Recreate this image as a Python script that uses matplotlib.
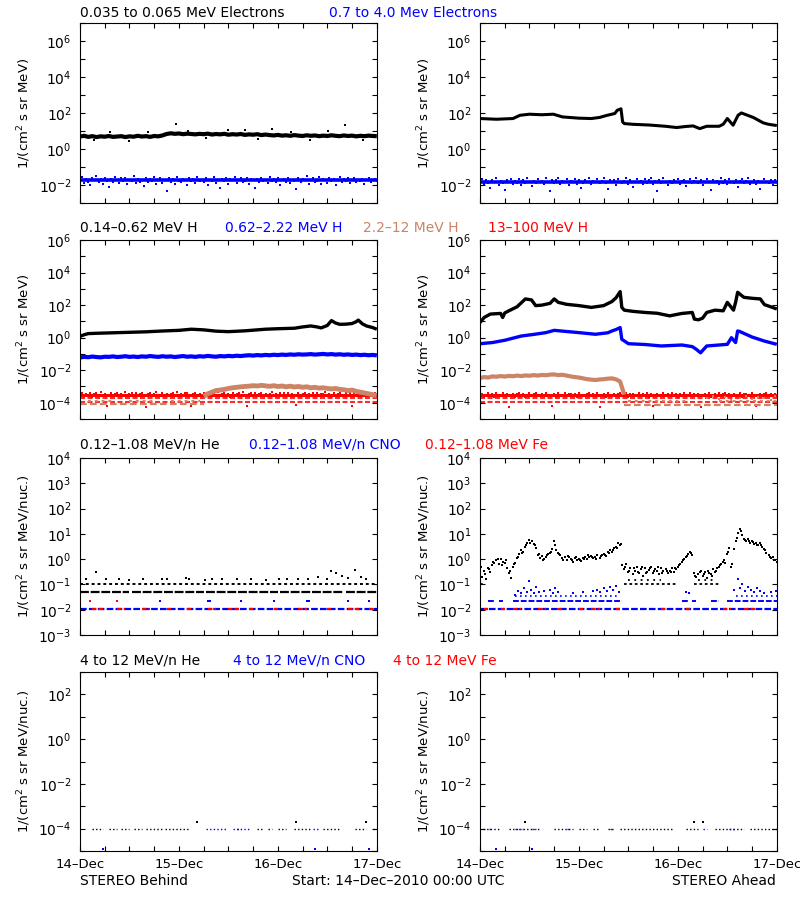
import numpy as np
import matplotlib
matplotlib.use('Agg')
import matplotlib.pyplot as plt
from matplotlib.ticker import FixedLocator, NullLocator, FuncFormatter

plt.rcParams['font.family'] = ['DejaVu Sans']
plt.rcParams['font.size'] = 10
plt.rcParams['mathtext.fontset'] = 'dejavusans'

BLUE = '#0000FF'; RED = '#FF0000'; TAN = '#CC8466'; BLACK = '#000000'

# ---------------- time bases (hours since 14-Dec-2010 00:00) ----------------
t_half = np.arange(0, 72.01, 0.5)    # 145 samples
t_hour = np.arange(0, 73, 1.0)       # 73 samples
t_qoff = np.arange(0.25, 72, 1.0)    # 72 samples, quarter-hour offset
day_ticks = [0, 24, 48, 72]
day_labels = ['14\u2013Dec', '15\u2013Dec', '16\u2013Dec', '17\u2013Dec']

# ---------------- Row 1: electrons (log10 values) ----------------
eB_lo = [0.72,0.76,0.70,0.74,0.69,0.73,0.71,0.75,0.70,0.72,0.74,0.69,0.73,0.71,0.76,0.72,0.74,0.70,0.75,0.73,0.78,
         0.86,0.90,0.87,0.89,0.85,0.88,0.86,0.84,0.87,0.85,0.88,0.83,0.86,0.84,0.87,0.82,0.85,0.83,0.86,0.81,0.84,0.82,0.85,0.80,0.83,
         0.80,0.78,0.81,0.77,0.79,0.76,0.80,0.77,0.75,0.79,0.76,0.78,0.74,0.77,0.75,0.79,0.76,0.74,0.78,0.75,0.77,0.73,0.76,0.74,0.77,0.75,0.74]
eB_lo_out_t = [3.5, 7.2, 11.8, 16.4, 23.4, 26.1, 30.5, 35.8, 40.0, 43.2, 46.5, 51.3, 55.9, 60.2, 64.2, 68.7]
eB_lo_out_v = [0.50, 0.95, 0.48, 0.98, 1.44, 1.05, 0.62, 1.08, 1.10, 0.60, 1.15, 0.95, 0.52, 1.00, 1.35, 0.50]
eB_hi = [-1.70,-1.55,-1.85,-1.62,-1.78,-1.95,-1.60,-1.72,-1.50,-1.83,
         -1.66,-1.90,-1.58,-1.75,-2.10,-1.64,-1.80,-1.52,-1.70,-1.88,
         -1.61,-1.77,-1.56,-1.92,-1.68,-1.74,-1.49,-1.86,-1.63,-1.79,
         -1.71,-2.05,-1.57,-1.82,-1.65,-1.76,-1.53,-1.89,-1.69,-1.60,
         -1.84,-1.72,-2.30,-1.59,-1.78,-1.66,-1.93,-1.55,-1.73,-1.81,
         -1.62,-1.70,-1.98,-1.57,-1.76,-1.64,-1.87,-1.51,-1.74,-1.68,
         -1.80,-1.60,-1.95,-1.67,-1.73,-1.55,-1.84,-1.70,-2.12,-1.63,
         -1.77,-1.58,-1.90,-1.66,-1.72,-1.52,-1.85,-1.69,-1.61,-1.79,
         -1.74,-1.56,-1.94,-1.65,-1.71,-2.15,-1.62,-1.83,-1.58,-1.76,
         -1.68,-1.88,-1.54,-1.73,-1.66,-1.81,-1.60,-1.97,-1.70,-1.64,
         -1.78,-1.57,-1.86,-1.67,-1.75,-2.20,-1.59,-1.82,-1.63,-1.72,
         -1.50,-1.90,-1.69,-1.61,-1.80,-1.74,-1.55,-1.92,-1.66,-1.71,
         -1.85,-1.58,-1.77,-1.63,-1.96,-1.68,-1.52,-1.79,-1.65,-1.73,
         -1.60,-1.88,-1.70,-1.56,-1.82,-1.67,-1.75,-1.62,-1.91,-1.69,
         -1.58,-1.80,-1.71,-1.64,-1.77]
eB_hi_core = [-1.72, -1.72]

eA_lo_t = [0,4,8,9.7,12,15,17.8,20,24,27,29,30.7,32.7,33.3,34.2,34.6,35,37,41,45,47.7,50,51.7,53.3,55,58,59,60,61.4,62.6,63.4,66.3,68.7,70,72]
eA_lo_v = [1.72,1.68,1.72,1.90,1.96,1.93,1.96,1.81,1.74,1.72,1.78,1.89,2.00,2.18,2.26,1.53,1.44,1.40,1.36,1.29,1.22,1.28,1.31,1.16,1.29,1.29,1.40,1.72,1.35,1.90,2.03,1.78,1.48,1.40,1.33]
eA_hi = [-1.80,-1.65,-1.92,-1.72,-1.86,-2.15,-1.70,-1.83,-1.60,-1.95,
         -1.76,-1.88,-2.25,-1.68,-1.81,-1.62,-1.90,-1.74,-1.85,-1.66,
         -1.97,-1.71,-1.84,-1.58,-1.79,-2.05,-1.73,-1.87,-1.64,-1.82,
         -1.75,-1.93,-1.61,-1.78,-2.30,-1.69,-1.86,-1.72,-1.59,-1.89,
         -1.77,-1.83,-1.66,-1.98,-1.74,-1.80,-1.63,-1.91,-1.70,-2.12,
         -1.85,-1.67,-1.79,-1.60,-1.94,-1.73,-1.82,-1.65,-1.88,-1.76,
         -1.57,-1.84,-2.20,-1.71,-1.80,-1.68,-1.96,-1.62,-1.78,-1.87,
         -1.74,-1.59,-1.90,-1.70,-2.08,-1.83,-1.66,-1.81,-1.75,-1.93,
         -1.64,-1.86,-1.72,-1.58,-1.89,-1.77,-2.28,-1.69,-1.84,-1.61,
         -1.79,-1.95,-1.73,-1.85,-1.67,-1.80,-1.62,-1.92,-1.76,-1.70,
         -2.02,-1.82,-1.65,-1.88,-1.74,-1.59,-1.86,-1.71,-1.97,-1.78,
         -1.63,-1.83,-2.26,-1.68,-1.81,-1.75,-1.90,-1.60,-1.84,-1.72,
         -1.94,-1.66,-1.79,-1.87,-1.70,-2.10,-1.76,-1.62,-1.85,-1.73,
         -1.58,-1.89,-1.80,-1.67,-1.92,-1.74,-2.18,-1.83,-1.64,-1.78,
         -1.86,-1.71,-1.95,-1.69,-1.81]
eA_hi_core = [-1.80, -1.80]

# ---------------- Row 2: protons ----------------
hB1_t = [0,1,2,4,8,12,16,20,24,27,30,33,36,40,45,48,52,54,56,57.5,58.5,60,61,62,63,64.5,66,67,67.5,68.5,69.5,71,72]
hB1_v = [0.08,0.18,0.25,0.27,0.30,0.33,0.36,0.41,0.45,0.52,0.48,0.40,0.37,0.42,0.52,0.55,0.58,0.66,0.72,0.66,0.60,0.75,1.05,0.90,0.82,0.83,0.87,0.98,1.08,0.85,0.72,0.62,0.52]
hB2 = [-1.22,-1.18,-1.20,-1.16,-1.19,-1.21,-1.17,-1.18,-1.15,-1.19,-1.17,-1.14,-1.18,-1.16,-1.19,-1.15,-1.17,-1.13,-1.16,-1.18,
       -1.14,-1.17,-1.15,-1.19,-1.16,-1.13,-1.17,-1.15,-1.18,-1.14,-1.16,-1.12,-1.15,-1.17,-1.13,-1.15,-1.12,-1.14,-1.11,-1.13,-1.10,
       -1.08,-1.10,-1.07,-1.09,-1.06,-1.08,-1.05,-1.07,-1.04,-1.06,-1.03,-1.05,-1.02,-1.04,-1.03,-1.01,-1.04,-1.02,-1.00,-1.03,
       -1.01,-1.04,-1.02,-1.05,-1.03,-1.06,-1.04,-1.07,-1.05,-1.08,-1.06,-1.09]
hB3_t = [30,31,32,33,34,35,36,37,38,39,40,41,42,43,44,45,46,47,48,49,50,51,52,53,54,55,56,57,58,59,60,61,62,63,64,65,66,67,68,69,70,71,72]
hB3_v = [-3.60,-3.45,-3.35,-3.25,-3.22,-3.18,-3.12,-3.08,-3.05,-3.02,-3.00,-2.98,-2.95,-2.97,-2.93,-2.96,-2.99,-2.95,-3.00,-2.97,
         -3.02,-2.98,-3.03,-3.00,-3.05,-3.02,-3.08,-3.05,-3.10,-3.08,-3.12,-3.15,-3.12,-3.18,-3.20,-3.25,-3.22,-3.30,-3.35,-3.40,
         -3.45,-3.50,-3.55]
hB3_floor = -4.09
hB3_floor_seg = [(0, 30)]
hB3_low_seg = [(2, 8), (12, 18), (22, 29)]
hB3_low = -3.92
hB4 = [-3.50,-3.40,-3.58,-3.45,-3.55,-3.38,-3.62,-3.48,-3.42,-3.53,
       -3.36,-3.57,-3.46,-4.20,-3.51,-3.41,-3.60,-3.47,-3.39,-3.54,
       -3.44,-3.59,-3.35,-3.52,-3.49,-3.43,-3.61,-3.37,-3.56,-3.46,
       -3.40,-3.55,-4.25,-3.48,-3.42,-3.58,-3.45,-3.34,-3.53,-3.50,
       -3.39,-3.57,-3.44,-3.60,-3.47,-3.41,-3.54,-3.36,-3.51,-3.46,
       -3.59,-3.43,-3.38,-3.55,-4.18,-3.49,-3.42,-3.57,-3.45,-3.52,
       -3.37,-3.60,-3.48,-3.40,-3.54,-3.44,-3.58,-3.35,-3.50,-3.46,
       -3.41,-3.56,-3.47,-3.62,-3.39,-3.53,-3.45,-3.43,-3.58,-3.36,
       -3.51,-4.22,-3.48,-3.42,-3.55,-3.40,-3.59,-3.46,-3.38,-3.54,
       -3.44,-3.57,-3.49,-3.35,-3.52,-3.47,-3.61,-3.41,-3.55,-3.43,
       -3.50,-3.38,-3.58,-3.45,-3.53,-4.15,-3.40,-3.56,-3.48,-3.37,
       -3.54,-3.46,-3.60,-3.42,-3.51,-3.39,-3.57,-3.44,-3.49,-3.36,
       -3.55,-3.47,-3.62,-3.41,-3.53,-3.45,-3.38,-3.58,-3.50,-3.43,
       -3.56,-3.40,-4.20,-3.48,-3.54,-3.37,-3.59,-3.46,-3.42,-3.52,
       -3.44,-3.57,-3.49,-3.39,-3.55]
hB4_levels = [-3.70, -3.96]

hA1_t = [0,1,2.5,5,5.5,6,7,9,11,12.5,13.5,15,17,18,19,21,24,27,30,32,33,34,34.4,35,37,40,43,46,49,51.5,52,53,54,55,57,59,60,61.5,62,62.5,64,66,68,69,70.5,72]
hA1_v = [0.93,1.24,1.45,1.49,1.24,1.52,1.65,1.90,2.38,2.32,1.97,2.00,2.11,2.38,2.17,2.05,1.97,1.86,1.97,2.22,2.45,2.83,1.86,1.69,1.62,1.55,1.50,1.34,1.49,1.55,1.14,1.10,1.20,1.55,1.69,1.65,2.17,1.69,2.17,2.79,2.48,2.42,2.38,2.03,1.90,1.76]
hA2_t = [0,3,6,10,13,16,18,21,24,28,31,32,33,34,34.4,36,40,44,49,51.5,52.5,53.5,55,58,60,61,62,62.5,63,66,69,72]
hA2_v = [-0.37,-0.30,-0.16,0.10,0.20,0.31,0.45,0.38,0.31,0.21,0.30,0.41,0.50,0.62,-0.10,-0.37,-0.42,-0.51,-0.45,-0.55,-0.72,-0.93,-0.51,-0.45,-0.41,0.0,-0.30,0.41,0.38,0.04,-0.21,-0.41]
hA3_t = [0,1,2,3,4,5,6,7,8,9,10,11,12,13,14,15,16,17,18,19,20,21,22,23,24,25,26,27,28,29,30,31,32,33,34,34.5,35]
hA3_v = [-2.48,-2.42,-2.45,-2.38,-2.40,-2.36,-2.39,-2.35,-2.37,-2.33,-2.36,-2.32,-2.34,-2.30,-2.33,-2.29,-2.31,-2.27,-2.26,-2.30,
         -2.28,-2.33,-2.38,-2.42,-2.45,-2.50,-2.55,-2.58,-2.60,-2.57,-2.55,-2.52,-2.50,-2.56,-2.70,-3.10,-3.50]
hA3_floor = -4.12
hA3_floor_seg = [(35, 72)]
hA3_low = -3.92
hA3_low_seg = [(36, 50), (58, 72)]
hA3_late_t = [55,56.5,58,59.5,61,63,64.5,66,67.5,69,70.5,71.5]
hA3_late_v = [-3.7,-3.6,-3.75,-3.65,-3.8,-3.7,-3.6,-3.75,-3.65,-3.7,-3.8,-3.6]
hA4 = [-3.55,-3.45,-3.62,-3.50,-3.40,-3.58,-3.48,-3.66,-3.43,-3.56,
       -3.52,-3.38,-3.60,-3.47,-4.28,-3.54,-3.44,-3.63,-3.49,-3.41,
       -3.57,-3.46,-3.65,-3.51,-3.39,-3.59,-3.48,-3.42,-3.61,-3.53,
       -3.45,-3.58,-3.40,-3.55,-3.50,-4.22,-3.47,-3.64,-3.43,-3.56,
       -3.52,-3.37,-3.60,-3.49,-3.44,-3.57,-3.46,-3.62,-3.41,-3.54,
       -3.50,-3.58,-3.45,-3.39,-3.61,-3.48,-3.55,-3.43,-4.25,-3.52,
       -3.47,-3.63,-3.40,-3.56,-3.50,-3.44,-3.59,-3.46,-3.38,-3.57,
       -3.53,-3.42,-3.65,-3.49,-3.45,-3.60,-3.51,-3.41,-3.58,-3.47,
       -3.55,-3.39,-3.62,-3.48,-4.18,-3.54,-3.44,-3.59,-3.50,-3.43,
       -3.57,-3.46,-3.61,-3.40,-3.53,-3.49,-3.64,-3.45,-3.56,-3.42,
       -3.51,-3.58,-3.38,-3.55,-3.47,-3.60,-3.44,-4.24,-3.52,-3.48,
       -3.57,-3.41,-3.63,-3.50,-3.46,-3.59,-3.43,-3.54,-3.49,-3.39,
       -3.61,-3.47,-3.56,-3.44,-3.58,-3.52,-3.40,-3.62,-3.48,-3.45,
       -3.57,-3.51,-3.42,-3.60,-4.20,-3.53,-3.46,-3.59,-3.49,-3.43,
       -3.56,-3.48,-3.61,-3.45,-3.52]
hA4_levels = [-3.72, -3.95]

# ---------------- Row 3: low-energy heavy ions ----------------
lB_he_lvl1 = -1.00
lB_he_lvl2 = -1.29
lB_he_lvl2_seg = [(0, 12), (12.5, 30), (30.5, 48), (48.5, 64), (64.5, 72)]
lB_he_dots_t = [1.5,4.0,6.3,9.5,12.0,15.2,19.8,21.0,25.8,26.5,30.3,32.0,34.5,38.2,41.5,45.0,48.3,50.2,53.0,55.4,57.8,59.8,61.0,62.2,63.5,65.0,66.8,68.2,69.5]
lB_he_dots_v = [-0.80,-0.50,-0.80,-0.78,-0.82,-0.80,-0.78,-0.80,-0.76,-0.80,-0.82,-0.80,-0.78,-0.80,-0.80,-0.82,-0.78,-0.80,-0.80,-0.78,-0.72,-0.80,-0.45,-0.55,-0.65,-0.75,-0.42,-0.70,-0.80]
l_floor = -1.97
lB_fe_seg = [(3,6),(9,11),(15,17),(21,22),(26,27),(31,33),(36,39),(41,42),(47,48),(53,55),(60,61),(65,68),(70,71)]
l_two = -1.66
lB_fe_two_t = [2.5, 9.0]
lB_cno_two_t = [19.5, 31.0, 31.6, 39.0, 47.0, 55.0, 55.5, 65.0, 70.0]

lA_he = [-0.55,-0.70,-0.45,-0.80,-0.35,-0.50,-0.25,-0.15,-0.05,-0.20,0.02,-0.10,-0.15,-0.35,-0.55,-0.75,-0.30,-0.15,0.05,0.20,
         0.35,0.30,0.50,0.62,0.75,0.70,0.60,0.45,0.15,0.05,0.12,0.02,0.10,0.20,0.25,0.40,0.72,0.35,0.25,0.15,
         0.05,0.10,-0.02,0.08,0.00,-0.10,0.05,-0.05,0.02,-0.08,0.05,0.10,0.00,0.08,0.12,0.03,0.10,0.15,0.05,0.18,
         0.22,0.12,0.30,0.35,0.28,0.45,0.50,0.62,0.55,-0.25,-0.40,-0.20,-0.50,-0.35,-0.60,-0.45,-0.30,-0.55,-0.40,-0.65,
         -0.35,-0.50,-0.42,-0.30,-0.55,-0.38,-0.45,-0.60,-0.35,-0.48,-0.40,-0.55,-0.45,-0.35,-0.50,-0.40,-0.30,-0.20,-0.10,0.00,
         0.10,0.20,0.30,0.15,-0.55,-0.70,-0.60,-0.45,-0.65,-0.50,-0.75,-0.55,-0.60,-0.40,-0.50,-0.35,-0.30,-0.20,-0.10,-0.15,
         0.20,0.45,-0.30,0.40,0.70,1.05,1.20,0.95,0.80,0.70,0.78,0.65,0.72,0.60,0.65,0.55,0.62,0.50,0.40,0.25,
         0.15,0.05,0.10,-0.05,-0.10]
lA_he2 = [-0.30,-0.60,-0.40,-0.10,0.00,-0.25,-0.05,-0.45,-0.20,0.10,
          0.25,0.55,0.65,0.55,0.20,-0.05,0.15,0.30,0.55,0.20,
          -0.05,0.12,-0.05,0.10,-0.02,0.00,0.15,0.08,0.02,0.12,
          0.18,0.25,0.38,0.45,0.60,
          -0.30,-0.45,-0.35,-0.50,-0.30,-0.55,-0.35,-0.48,-0.30,-0.55,
          -0.45,-0.50,-0.35,-0.25,-0.05,0.12,0.25,-0.65,-0.50,-0.58,
          -0.45,-0.65,-0.45,-0.25,-0.05,0.30,-0.20,0.85,1.10,0.75,
          0.70,0.68,0.58,0.55,0.35,0.10,-0.02]
lA_he_lvl1 = -1.00
lA_he_lvl1_seg = [(0, 1), (35, 48), (52, 58)]
lA_he_lvl0 = -0.82
lA_he_lvl0_seg = [(36, 44), (53, 57)]
lA_fe_seg = [(1,2),(5,6),(8,10),(14,16),(19,20),(24,25),(27,29),(33,34),(44,45),(50,51),(59,61),(64,67)]
lA_cno_two_seg = [(2,3.5),(4.5,5.5),(8,34.5),(49,50.5),(51.5,52.5),(56,58),(60,72)]
l_three = -1.45
lA_cno_three_seg = [(8.5,34),(62,72)]
lA_cno_t = [8.5,9.2,10.0,10.6,11.3,11.9,12.4,13.0,13.6,14.2,15.5,17.0,17.6,18.3,19.0,22.5,25.0,27.5,28.5,29.2,
            30.0,30.8,31.5,32.2,33.0,33.6,50.0,50.8,61.5,62.5,63.0,63.6,64.3,65.0,65.8,66.5,67.3,68.0,69.0,70.5,71.8]
lA_cno_v = [-1.40,-1.25,-1.35,-1.15,-1.30,-0.85,-1.20,-1.35,-1.10,-1.30,-1.25,-1.20,-1.35,-1.15,-1.30,-1.35,-1.30,-1.25,-1.20,-1.30,
            -1.15,-1.25,-1.10,-1.20,-1.05,-1.30,-1.30,-1.35,-1.20,-0.80,-1.15,-1.00,-1.25,-1.10,-1.20,-1.30,-1.15,-1.25,-1.35,-1.30,-1.25]

# ---------------- Row 4: high-energy heavy ions ----------------
h_floor = -4.00
h_two = -3.70
h_bottom = -4.92
hiB_he_seg = [(3,5.5),(7,9),(10,12),(13,15),(16,20),(20.5,24.5),(25,26.5),(38,39),(43,44.5),(45.5,46.5),(48,50),(52,56),(59,63),(66.7,69.5),(71,72)]
hiB_cno_seg = [(30.5,35.5),(37,41),(56.5,58)]
hiB_he_two_t = [28.4, 52.5, 69.5]
hiB_cno_bot_t = [5.6, 57.0, 70.0]
hiA_he_seg = [(0.8,4.8),(7,10),(10.5,14.5),(18,22.5),(24,26),(27.5,29),(31,32.5),(34,47),(50,53),(57,64),(65.5,72)]
hiA_cno_seg = [(2.2,2.8),(8.5,10.5),(12.5,13.5),(21,21.8),(31.5,32.2),(54,55),(60.5,61.5)]
hiA_he_two_t = [10.8, 52.0, 54.0]
hiA_cno_bot_t = [3.8, 12.6]

# ---------------- helpers ----------------
def P(v):
    return 10.0 ** np.asarray(v, dtype=float)

def dots(ax, t, lg, color, ms=1.8):
    ax.plot(t, P(lg), ls='none', marker='s', ms=ms, mew=0, color=color)

def band(ax, t, lg, color, lw):
    ax.plot(t, P(lg), color=color, lw=lw, solid_joinstyle='round', solid_capstyle='butt')

def level(ax, segs, lg, color, dash=(1.2, 1.2), lw=1.4):
    for a, b in segs:
        ax.plot([a, b], P([lg, lg]), color=color, lw=lw, dashes=dash, dash_capstyle='butt')

def setup(ax, ylo, yhi, labels, ylabel, xlabels):
    ax.set_xlim(0, 72)
    ax.set_yscale('log')
    ax.set_ylim(10.0 ** ylo, 10.0 ** yhi)
    ax.yaxis.set_major_locator(FixedLocator([10.0 ** k for k in range(ylo, yhi + 1)]))
    ax.yaxis.set_minor_locator(NullLocator())
    def fmt(v, p, labels=labels):
        k = int(round(np.log10(v)))
        return r'$10^{%d}$' % k if k in labels else ''
    ax.yaxis.set_major_formatter(FuncFormatter(fmt))
    ticks = list(range(0, 73, 6))
    ax.xaxis.set_major_locator(FixedLocator(ticks))
    ax.xaxis.set_minor_locator(NullLocator())
    if xlabels:
        ax.set_xticklabels([day_labels[day_ticks.index(k)] if k in day_ticks else '' for k in ticks])
    else:
        ax.set_xticklabels([''] * len(ticks))
    ax.tick_params(axis='both', which='both', direction='in', top=True, right=True,
                   length=3.5, width=0.8, labelsize=10, color='black')
    ax.tick_params(axis='x', labelsize=9.5, pad=5)
    ax.tick_params(axis='y', pad=6)
    for s in ax.spines.values():
        s.set_linewidth(0.8)
    ax.set_ylabel(ylabel, fontsize=9.5)
    ax.yaxis.set_label_coords(-0.158, 0.5)

fig = plt.figure(figsize=(8, 9), dpi=100)
rows = [(0.7739, 0.2000), (0.5344, 0.1989), (0.2944, 0.1967), (0.0544, 0.1989)]
cols = [0.100, 0.600]
W = 0.371
axs = [[fig.add_axes([c, b, W, h]) for c in cols] for (b, h) in rows]

lab1 = r'1/(cm$^2$ s sr MeV)'
lab2 = r'1/(cm$^2$ s sr MeV/nuc.)'

# Row 1
ax = axs[0][0]
setup(ax, -3, 7, [6, 4, 2, 0, -2], lab1, False)
band(ax, [0, 72], eB_hi_core, BLUE, 2.6)
dots(ax, t_half, eB_hi, BLUE, ms=2.0)
band(ax, t_hour, eB_lo, BLACK, 3.0)
dots(ax, eB_lo_out_t, eB_lo_out_v, BLACK, ms=1.6)
ax = axs[0][1]
setup(ax, -3, 7, [6, 4, 2, 0, -2], lab1, False)
band(ax, [0, 72], eA_hi_core, BLUE, 2.6)
dots(ax, t_half, eA_hi, BLUE, ms=2.0)
band(ax, eA_lo_t, eA_lo_v, BLACK, 2.2)

# Row 2
ax = axs[1][0]
setup(ax, -5, 6, [6, 4, 2, 0, -2, -4], lab1, False)
band(ax, [0, 72], [-3.50, -3.50], RED, 2.2)
dots(ax, t_half, hB4, RED, ms=2.0)
for lv in hB4_levels:
    level(ax, [(0, 72)], lv, RED, dash=(3, 1.5), lw=1.2)
level(ax, hB3_floor_seg, hB3_floor, TAN, dash=(3, 1.5), lw=1.6)
level(ax, hB3_low_seg, hB3_low, TAN, dash=(1.5, 2), lw=1.4)
band(ax, hB3_t, hB3_v, TAN, 3.5)
band(ax, t_hour, hB2, BLUE, 3.0)
band(ax, hB1_t, hB1_v, BLACK, 2.4)
ax = axs[1][1]
setup(ax, -5, 6, [6, 4, 2, 0, -2, -4], lab1, False)
band(ax, [0, 72], [-3.55, -3.55], RED, 2.2)
dots(ax, t_half, hA4, RED, ms=2.0)
for lv in hA4_levels:
    level(ax, [(0, 72)], lv, RED, dash=(3, 1.5), lw=1.2)
level(ax, hA3_floor_seg, hA3_floor, TAN, dash=(3, 1.5), lw=1.6)
level(ax, hA3_low_seg, hA3_low, TAN, dash=(1.5, 2), lw=1.4)
dots(ax, hA3_late_t, hA3_late_v, TAN)
band(ax, hA3_t, hA3_v, TAN, 3.0)
band(ax, hA2_t, hA2_v, BLUE, 2.4)
band(ax, hA1_t, hA1_v, BLACK, 2.4)

# Row 3
ax = axs[2][0]
setup(ax, -3, 4, [4, 3, 2, 1, 0, -1, -2, -3], lab2, False)
level(ax, [(0, 72)], l_floor, BLUE, dash=(3, 1), lw=1.6)
level(ax, lB_fe_seg, l_floor, RED, dash=(2, 1), lw=1.6)
dots(ax, lB_fe_two_t, [l_two] * len(lB_fe_two_t), RED)
dots(ax, lB_cno_two_t, [l_two] * len(lB_cno_two_t), BLUE)
level(ax, [(0, 72)], lB_he_lvl1, BLACK, dash=(1.5, 1.5), lw=1.4)
level(ax, lB_he_lvl2_seg, lB_he_lvl2, BLACK, dash=(4, 0.8), lw=1.6)
dots(ax, lB_he_dots_t, lB_he_dots_v, BLACK, ms=1.5)
ax = axs[2][1]
setup(ax, -3, 4, [4, 3, 2, 1, 0, -1, -2, -3], lab2, False)
level(ax, [(0, 72)], l_floor, BLUE, dash=(3, 1), lw=1.6)
level(ax, lA_fe_seg, l_floor, RED, dash=(2, 1), lw=1.6)
level(ax, lA_cno_two_seg, l_two, BLUE, dash=(3, 1), lw=1.4)
level(ax, lA_cno_three_seg, l_three, BLUE, dash=(1, 2), lw=1.2)
dots(ax, lA_cno_t, lA_cno_v, BLUE, ms=1.6)
level(ax, lA_he_lvl1_seg, lA_he_lvl1, BLACK, dash=(1.5, 1.5), lw=1.3)
level(ax, lA_he_lvl0_seg, lA_he_lvl0, BLACK, dash=(1, 2.5), lw=1.3)
dots(ax, t_half, lA_he, BLACK, ms=2.0)
dots(ax, t_qoff, lA_he2, BLACK, ms=2.0)

# Row 4
for j, (he_seg, cno_seg, he_two, cno_bot) in enumerate([
        (hiB_he_seg, hiB_cno_seg, hiB_he_two_t, hiB_cno_bot_t),
        (hiA_he_seg, hiA_cno_seg, hiA_he_two_t, hiA_cno_bot_t)]):
    ax = axs[3][j]
    setup(ax, -5, 3, [2, 0, -2, -4], lab2, True)
    level(ax, he_seg, h_floor, BLACK, dash=(1, 1.6), lw=1.0)
    level(ax, cno_seg, h_floor, BLUE, dash=(1, 1.6), lw=1.0)
    dots(ax, he_two, [h_two] * len(he_two), BLACK, ms=1.8)
    dots(ax, cno_bot, [h_bottom] * len(cno_bot), BLUE, ms=1.8)

# Titles (multi-coloured legends)
def px(x):
    return x / 800.0
def py(y):
    return 1 - y / 900.0

DASH = '\u2013'
titles = [
    (13.0, [(80, '0.035 to 0.065 MeV Electrons', BLACK), (329, '0.7 to 4.0 Mev Electrons', BLUE)]),
    (228.5, [(80, '0.14-0.62 MeV H', BLACK), (225, '0.62-2.22 MeV H', BLUE), (363, '2.2-12 MeV H', TAN), (488, '13-100 MeV H', RED)]),
    (445.0, [(80, '0.12-1.08 MeV/n He', BLACK), (249, '0.12-1.08 MeV/n CNO', BLUE), (425, '0.12-1.08 MeV Fe', RED)]),
    (661.0, [(80, '4 to 12 MeV/n He', BLACK), (233, '4 to 12 MeV/n CNO', BLUE), (393, '4 to 12 MeV Fe', RED)]),
]
for y, items in titles:
    for x, s, c in items:
        fig.text(px(x), py(y), s.replace('-', DASH), color=c, fontsize=10, ha='left', va='center')

fig.text(px(80), py(881), 'STEREO Behind', fontsize=10, ha='left', va='center')
fig.text(px(292), py(881), 'Start: 14' + DASH + 'Dec' + DASH + '2010 00:00 UTC', fontsize=10, ha='left', va='center')
fig.text(px(776), py(881), 'STEREO Ahead', fontsize=10, ha='right', va='center')

fig.savefig('out.png', dpi=100, facecolor='white')
